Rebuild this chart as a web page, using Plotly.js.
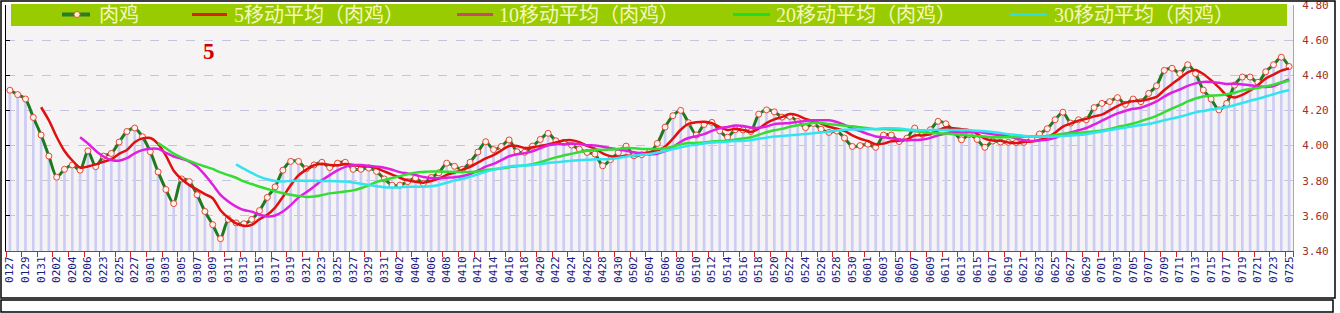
<!DOCTYPE html>
<html><head><meta charset="utf-8">
<script src="https://cdn.plot.ly/plotly-3.0.1.min.js"></script>
<style>html,body{margin:0;padding:0;background:#fff;overflow:hidden}#chart{width:1340px;height:313px}</style>
</head><body><div id="chart"></div>
<script>
// ---- data ----
const dates = ["0127","0128","0129","0130","0131","0201","0202","0203","0204","0205","0206","0207",
"0223","0224","0225","0226","0227","0228",
"0301","0302","0303","0304","0305","0306","0307","0308","0309","0310","0311","0312","0313","0314","0315","0316","0317","0318","0319","0320","0321","0322","0323","0324","0325","0326","0327","0328","0329","0330","0331",
"0401","0402","0403","0404","0405","0406","0407","0408","0409","0410","0411","0412","0413","0414","0415","0416","0417","0418","0419","0420","0421","0422","0423","0424","0425","0426","0427","0428","0429","0430",
"0501","0502","0503","0504","0505","0506","0507","0508","0509","0510","0511","0512","0513","0514","0515","0516","0517","0518","0519","0520","0521","0522","0523","0524","0525","0526","0527","0528","0529","0530","0531",
"0601","0602","0603","0604","0605","0606","0607","0608","0609","0610","0611","0612","0613","0614","0615","0616","0617","0618","0619","0620","0621","0622","0623","0624","0625","0626","0627","0628","0629","0630",
"0701","0702","0703","0704","0705","0706","0707","0708","0709","0710","0711","0712","0713","0714","0715","0716","0717","0718","0719","0720","0721","0722","0723","0724","0725"];

const meat = [4.315,4.29,4.265,4.16,4.06,3.94,3.82,3.865,3.89,3.86,
3.97,3.88,3.94,3.955,4.02,4.08,4.10,4.05,3.965,3.85,
3.75,3.67,3.81,3.795,3.72,3.625,3.55,3.47,3.58,3.56,
3.555,3.58,3.63,3.705,3.765,3.86,3.91,3.91,3.868,3.89,
3.905,3.875,3.90,3.905,3.865,3.865,3.872,3.853,3.81,3.775,
3.775,3.795,3.815,3.785,3.818,3.845,3.90,3.882,3.865,3.905,
3.963,4.022,3.977,3.995,4.032,3.965,3.962,3.997,4.035,4.07,
4.027,4.018,4.003,3.98,3.961,3.952,3.885,3.92,3.96,3.997,
3.942,3.948,3.962,4.012,4.105,4.17,4.20,4.13,4.06,4.12,
4.132,4.084,4.048,4.09,4.089,4.08,4.179,4.203,4.192,4.162,
4.166,4.137,4.102,4.126,4.093,4.075,4.083,4.043,3.995,4.00,
4.008,3.99,4.06,4.06,4.023,4.042,4.10,4.064,4.09,4.138,
4.124,4.08,4.033,4.063,4.035,3.99,4.026,4.02,4.018,4.017,
4.018,4.04,4.066,4.096,4.147,4.19,4.128,4.147,4.147,4.216,
4.24,4.25,4.273,4.235,4.265,4.25,4.297,4.34,4.428,4.44,
4.41,4.46,4.41,4.316,4.265,4.203,4.24,4.344,4.39,4.39,
4.36,4.42,4.46,4.503,4.45];

// moving-average lines (each starts where the reference line starts)
const ma5 = [4.218,4.143,4.049,3.969,3.915,3.875,3.881,3.893,3.908,3.921,3.953,3.975,4.019,4.041,4.043,4.009,
3.943,3.857,3.809,3.775,3.749,3.724,3.700,3.632,3.589,3.557,3.543,3.549,3.581,3.606,3.647,3.708,3.774,3.830,3.863,3.888,
3.897,3.890,3.888,3.895,3.890,3.882,3.881,3.872,3.853,3.835,3.817,3.802,3.794,3.789,3.798,3.812,3.833,3.846,3.862,3.879,
3.903,3.927,3.946,3.972,3.998,3.998,3.986,3.990,3.998,4.006,4.018,4.029,4.031,4.020,3.998,3.983,3.956,3.940,3.936,3.943,
3.941,3.953,3.962,3.972,3.994,4.039,4.090,4.123,4.133,4.136,4.128,4.105,4.089,4.095,4.089,4.078,4.097,4.128,4.149,4.163,
4.180,4.172,4.152,4.139,4.125,4.107,4.096,4.084,4.058,4.039,4.026,4.007,4.011,4.024,4.028,4.035,4.057,4.058,4.064,4.087,
4.103,4.099,4.093,4.088,4.067,4.040,4.029,4.027,4.018,4.014,4.020,4.023,4.032,4.047,4.073,4.108,4.125,4.142,4.152,4.166,
4.176,4.200,4.225,4.243,4.253,4.255,4.264,4.277,4.316,4.351,4.383,4.416,4.430,4.407,4.372,4.331,4.287,4.274,4.288,4.313,
4.345,4.381,4.404,4.427,4.439];
const ma10 = [4.047,4.012,3.971,3.938,3.918,3.914,3.928,3.956,3.974,3.982,3.981,3.959,3.938,3.925,3.909,3.879,
3.833,3.778,3.720,3.682,3.653,3.633,3.624,3.606,3.597,3.602,3.625,3.661,3.705,3.734,3.767,3.802,3.832,3.859,3.879,3.889,
3.889,3.885,3.880,3.874,3.862,3.849,3.841,3.833,3.821,3.816,3.814,3.817,3.820,3.825,3.838,3.857,3.880,3.896,3.917,3.939,
3.951,3.957,3.968,3.985,4.002,4.008,4.008,4.010,4.009,4.002,4.001,3.993,3.985,3.978,3.970,3.962,3.955,3.951,3.954,3.968,
3.990,4.022,4.043,4.053,4.065,4.084,4.098,4.106,4.114,4.112,4.103,4.101,4.109,4.122,4.126,4.129,4.135,4.140,4.144,4.144,
4.144,4.134,4.118,4.098,4.082,4.066,4.052,4.047,4.041,4.034,4.030,4.032,4.034,4.044,4.058,4.069,4.078,4.075,4.076,4.077,
4.072,4.064,4.060,4.053,4.041,4.030,4.026,4.029,4.033,4.044,4.064,4.074,4.087,4.100,4.120,4.142,4.163,4.183,4.197,4.209,
4.215,4.232,4.251,4.279,4.302,4.319,4.340,4.354,4.362,4.362,4.357,4.351,4.352,4.348,4.343,4.338,4.334,4.339,4.358,4.376];
const ma20 = [4.014,3.985,3.954,3.932,3.913,3.896,3.881,3.867,3.847,3.832,3.817,3.796,3.781,3.766,3.753,3.740,
3.729,3.720,3.713,3.708,3.710,3.718,3.728,3.733,3.738,3.745,3.757,3.773,3.793,3.804,3.815,3.826,3.837,3.846,3.850,3.853,
3.852,3.851,3.850,3.850,3.850,3.853,3.861,3.865,3.869,3.877,3.882,3.887,3.894,3.905,3.920,3.933,3.944,3.953,3.963,3.970,
3.976,3.975,3.977,3.981,3.986,3.985,3.981,3.981,3.981,3.985,3.995,4.007,4.014,4.015,4.018,4.023,4.026,4.028,4.034,4.040,
4.047,4.061,4.076,4.087,4.095,4.107,4.116,4.123,4.129,4.128,4.123,4.118,4.113,4.110,4.104,4.098,4.093,4.094,4.092,4.089,
4.087,4.083,4.076,4.071,4.070,4.068,4.065,4.061,4.058,4.055,4.051,4.048,4.047,4.048,4.049,4.050,4.052,4.052,4.054,4.060,
4.068,4.069,4.073,4.076,4.080,4.086,4.094,4.106,4.115,4.126,4.139,4.153,4.169,4.190,4.211,4.230,4.251,4.268,4.279,4.285,
4.286,4.292,4.301,4.314,4.322,4.328,4.337,4.346,4.360,4.369];
const ma30 = [3.893,3.868,3.844,3.823,3.808,3.798,3.796,3.799,3.800,3.799,3.800,3.798,3.798,3.797,3.795,3.790,
3.783,3.775,3.769,3.763,3.761,3.762,3.766,3.766,3.766,3.769,3.776,3.788,3.802,3.811,3.823,3.836,3.851,3.863,3.872,3.881,
3.885,3.886,3.889,3.895,3.901,3.905,3.910,3.913,3.916,3.919,3.922,3.922,3.924,3.929,3.937,3.942,3.948,3.952,3.960,3.970,
3.980,3.990,3.999,4.005,4.012,4.018,4.020,4.022,4.026,4.027,4.031,4.039,4.045,4.051,4.054,4.058,4.062,4.066,4.070,4.075,
4.079,4.086,4.090,4.091,4.091,4.093,4.095,4.098,4.099,4.097,4.092,4.089,4.087,4.088,4.088,4.088,4.088,4.088,4.087,4.085,
4.082,4.077,4.071,4.065,4.060,4.055,4.052,4.051,4.050,4.051,4.055,4.057,4.060,4.065,4.073,4.080,4.089,4.096,4.102,4.110,
4.117,4.123,4.133,4.144,4.154,4.164,4.176,4.189,4.197,4.205,4.212,4.219,4.230,4.242,4.255,4.266,4.279,4.292,4.305,4.316];

const seriesNames = ["肉鸡","5移动平均（肉鸡）","10移动平均（肉鸡）","20移动平均（肉鸡）","30移动平均（肉鸡）"];
const tickLabels = dates.filter((d, i) => i % 2 === 0);
const yTicks = [3.40,3.60,3.80,4.00,4.20,4.40,4.60,4.80];
const cornerNote = "5";

// ---- styles / layout geometry ----
const W = 1340, H = 313, PL = 6, PR = 47, PT = 5, PB = 62;
const PW = W - PL - PR, PH = H - PT - PB;
const fx = p => (p - PL) / PW;
const fy = p => (PT + PH - p) / PH;
const lineColors = ["#1e7a1e", "#e01010", "#e020e0", "#33dd33", "#30e4f0"];
const legendSymColors = ["#2a7d2a", "#dd2200", "#c84a6a", "#22dd22", "#33dddd"];
const legendSymX = [[62, 90], [192, 227], [457, 493], [733, 770], [1010, 1047]];
const legendTextX = [98, 233, 498, 775, 1053];

const traces = [
  {type: "bar", x: dates, y: meat, yaxis: "y", width: 0.34,
   marker: {color: "#ccccf4", line: {width: 0}}, hoverinfo: "skip", showlegend: false},
  {type: "scatter", mode: "lines+markers", x: dates, y: meat, yaxis: "y2", name: seriesNames[0],
   line: {color: lineColors[0], width: 3, shape: "spline", smoothing: 0.7},
   marker: {size: 6, color: "#fff2ee", line: {color: "#e04a3a", width: 1}}},
  {type: "scatter", mode: "lines", x: dates.slice(dates.length - ma5.length), y: ma5, yaxis: "y2", name: seriesNames[1],
   line: {color: lineColors[1], width: 2.5, shape: "spline", smoothing: 0.8}},
  {type: "scatter", mode: "lines", x: dates.slice(dates.length - ma10.length), y: ma10, yaxis: "y2", name: seriesNames[2],
   line: {color: lineColors[2], width: 2.5, shape: "spline", smoothing: 0.8}},
  {type: "scatter", mode: "lines", x: dates.slice(dates.length - ma20.length), y: ma20, yaxis: "y2", name: seriesNames[3],
   line: {color: lineColors[3], width: 2.5, shape: "spline", smoothing: 0.8}},
  {type: "scatter", mode: "lines", x: dates.slice(dates.length - ma30.length), y: ma30, yaxis: "y2", name: seriesNames[4],
   line: {color: lineColors[4], width: 2.5, shape: "spline", smoothing: 0.8}}
];

const shapes = [];
const annotations = [];
// outer frame and lower box
shapes.push({type: "rect", xref: "paper", yref: "paper", x0: fx(1), x1: fx(1335), y0: fy(298), y1: fy(1),
  line: {color: "#000", width: 1.5}, fillcolor: "rgba(0,0,0,0)", layer: "above"});
shapes.push({type: "rect", xref: "paper", yref: "paper", x0: fx(1), x1: fx(1333), y0: fy(312), y1: fy(300),
  line: {color: "#000", width: 1.5}, fillcolor: "rgba(0,0,0,0)", layer: "above"});
// legend band
shapes.push({type: "rect", xref: "paper", yref: "paper", x0: fx(11), x1: fx(1287), y0: fy(26), y1: fy(4),
  line: {width: 0}, fillcolor: "#99cc00", layer: "above"});
seriesNames.forEach((name, k) => {
  shapes.push({type: "line", xref: "paper", yref: "paper", x0: fx(legendSymX[k][0]), x1: fx(legendSymX[k][1]),
    y0: fy(14.5), y1: fy(14.5), line: {color: legendSymColors[k], width: k === 0 ? 4 : 3}, layer: "above"});
  annotations.push({xref: "paper", yref: "paper", x: fx(legendTextX[k]), y: fy(15), xanchor: "left", yanchor: "middle",
    text: name, showarrow: false, borderpad: 0,
    font: {family: "Liberation Serif, Noto Sans CJK SC", size: 20, color: "#f6f6bc"}});
});
shapes.push({type: "circle", xref: "paper", yref: "paper", x0: fx(74), x1: fx(80), y0: fy(17.5), y1: fy(11.5),
  line: {color: "#e06020", width: 1}, fillcolor: "#fff0d8", layer: "above"});
annotations.push({xref: "paper", yref: "paper", x: fx(209), y: fy(51), xanchor: "center", yanchor: "middle",
  text: "<b>" + cornerNote + "</b>", showarrow: false, font: {family: "Liberation Serif", size: 23, color: "#cc0000"}});

const layout = {
  width: W, height: H,
  margin: {l: PL, r: PR, t: PT, b: PB, pad: 0},
  paper_bgcolor: "#ffffff", plot_bgcolor: "#f5f3f3",
  showlegend: false,
  xaxis: {type: "category", range: [-0.5, dates.length - 0.5], tickmode: "array", tickvals: tickLabels, ticktext: tickLabels,
    tickangle: -90, tickson: "boundaries", ticks: "outside", ticklen: 5, tickcolor: "#cc2222", tickwidth: 1,
    showline: true, linecolor: "#cc2222", linewidth: 1, showgrid: false, zeroline: false, fixedrange: true,
    tickfont: {family: "DejaVu Sans Mono", size: 11, color: "#1a1a80"}},
  yaxis: {range: [3.4, 4.8], tickmode: "array", tickvals: yTicks, showticklabels: false, ticks: "inside", ticklen: 4,
    tickcolor: "#000", showline: true, linecolor: "#000", linewidth: 1, showgrid: true, gridcolor: "#c4c4e0",
    griddash: "dash", gridwidth: 1, zeroline: false, fixedrange: true},
  yaxis2: {overlaying: "y", side: "right", range: [3.4, 4.8], tickmode: "array", tickvals: yTicks, tickformat: ".2f",
    showline: true, linecolor: "#a8a8a8", linewidth: 1, showgrid: false, zeroline: false, ticks: "outside", ticklen: 6,
    tickcolor: "rgba(0,0,0,0)", fixedrange: true, ticklabeloverflow: "allow",
    tickfont: {family: "DejaVu Sans Mono", size: 11, color: "#a0302c"}},
  shapes: shapes, annotations: annotations
};

Plotly.newPlot("chart", traces, layout, {displayModeBar: false, staticPlot: true});
</script></body></html>
